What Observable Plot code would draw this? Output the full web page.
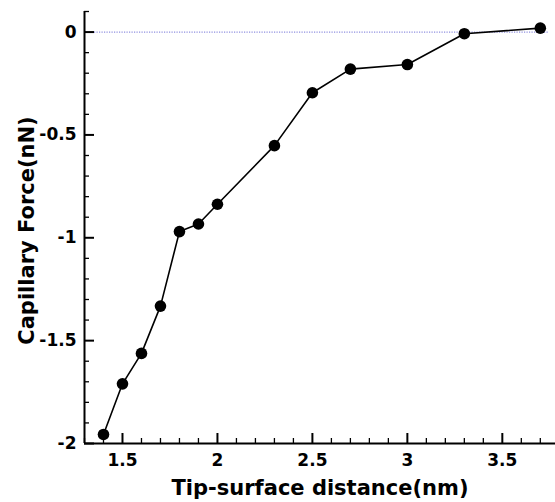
<!DOCTYPE html>
<html><head><meta charset="utf-8">
<script src="https://cdn.jsdelivr.net/npm/d3@7"></script>
<script src="https://cdn.jsdelivr.net/npm/@observablehq/plot@0.6"></script>
<style>html,body{margin:0;padding:0;background:#fff;} svg{display:block;}</style>
</head><body><div id="chart"></div>
<script>
// Data
const distance = [1.4, 1.5, 1.6, 1.7, 1.8, 1.9, 2.0, 2.3, 2.5, 2.7, 3.0, 3.3, 3.7];
const force = [-1.956, -1.71, -1.562, -1.332, -0.970, -0.933, -0.837, -0.552, -0.295, -0.180, -0.158, -0.008, 0.019];
const xTickLabels = [1.5, 2, 2.5, 3, 3.5];
const yTickLabels = [0, -0.5, -1, -1.5, -2];
const xDomain = [1.3, 3.78];
const yDomain = [-2, 0.1];
const zeroLine = [0];
const zeroLineExtent = [1.3, 3.745];
const xTitle = "Tip-surface distance(nm)";
const yTitle = "Capillary Force(nN)";

const data = distance.map((d, i) => ({distance: d, force: force[i]}));
const isMajor = (arr, v) => arr.some(t => Math.abs(t - v) < 1e-9);
const xMinor = d3.range(13, 38).map(v => v / 10).filter(v => !isMajor(xTickLabels, v));
const yMinor = d3.range(-20, 2).map(v => v / 10).filter(v => !isMajor(yTickLabels, v));

const W = 555, H = 502;
const mL = 84, mR = 0, mT = 11, mB = 59;
const frameW = W - mL - mR, frameH = H - mT - mB;
const font = "'DejaVu Sans', 'Liberation Sans', Arial, sans-serif";

const chart = Plot.plot({
  width: W, height: H,
  marginLeft: mL, marginRight: mR, marginTop: mT, marginBottom: mB,
  style: {fontFamily: font, fontSize: "17px", fontWeight: "bold", color: "black", background: "white"},
  x: {domain: xDomain, axis: null},
  y: {domain: yDomain, axis: null},
  marks: [
    Plot.ruleY(zeroLine, {y: d => d, x1: zeroLineExtent[0], x2: zeroLineExtent[1], stroke: "#9090e0", strokeWidth: 1.2, strokeDasharray: "1.2,1.3"}),
    // axis lines
    Plot.ruleX([xDomain[0]], {x: d => d, stroke: "black", strokeWidth: 2}),
    Plot.ruleY([yDomain[0]], {y: d => d, stroke: "black", strokeWidth: 2}),
    // inward ticks
    Plot.tickX(xTickLabels, {x: d => d, insetTop: frameH - 10, stroke: "black", strokeWidth: 2}),
    Plot.tickX(xMinor, {x: d => d, insetTop: frameH - 5, stroke: "black", strokeWidth: 1.3}),
    Plot.tickY(yTickLabels, {y: d => d, insetRight: frameW - 10, stroke: "black", strokeWidth: 2}),
    Plot.tickY(yMinor, {y: d => d, insetRight: frameW - 5, stroke: "black", strokeWidth: 1.3}),
    // tick labels
    Plot.axisX({ticks: xTickLabels, tickSize: 0, tickPadding: 10, tickFormat: d => String(d), fontSize: 17, fontWeight: "bold", fontFamily: font, label: null}),
    Plot.axisY({ticks: yTickLabels, tickSize: 0, tickPadding: 8, tickFormat: d => String(d), fontSize: 17, fontWeight: "bold", fontFamily: font, label: null}),
    // data
    Plot.line(data, {x: "distance", y: "force", stroke: "black", strokeWidth: 1.6}),
    Plot.dot(data, {x: "distance", y: "force", r: 5.8, fill: "black", stroke: "none"}),
    // titles
    Plot.text([xTitle], {text: d => d, frameAnchor: "bottom", textAnchor: "middle", lineAnchor: "bottom", dy: 51, fontSize: 21, fontWeight: "bold", fontFamily: font, fill: "black"}),
    Plot.text([yTitle], {text: d => d, frameAnchor: "left", textAnchor: "middle", lineAnchor: "bottom", rotate: -90, dx: -51, dy: 3, fontSize: 21, fontWeight: "bold", fontFamily: font, fill: "black"})
  ]
});
document.getElementById("chart").appendChild(chart);
</script>
</body></html>
